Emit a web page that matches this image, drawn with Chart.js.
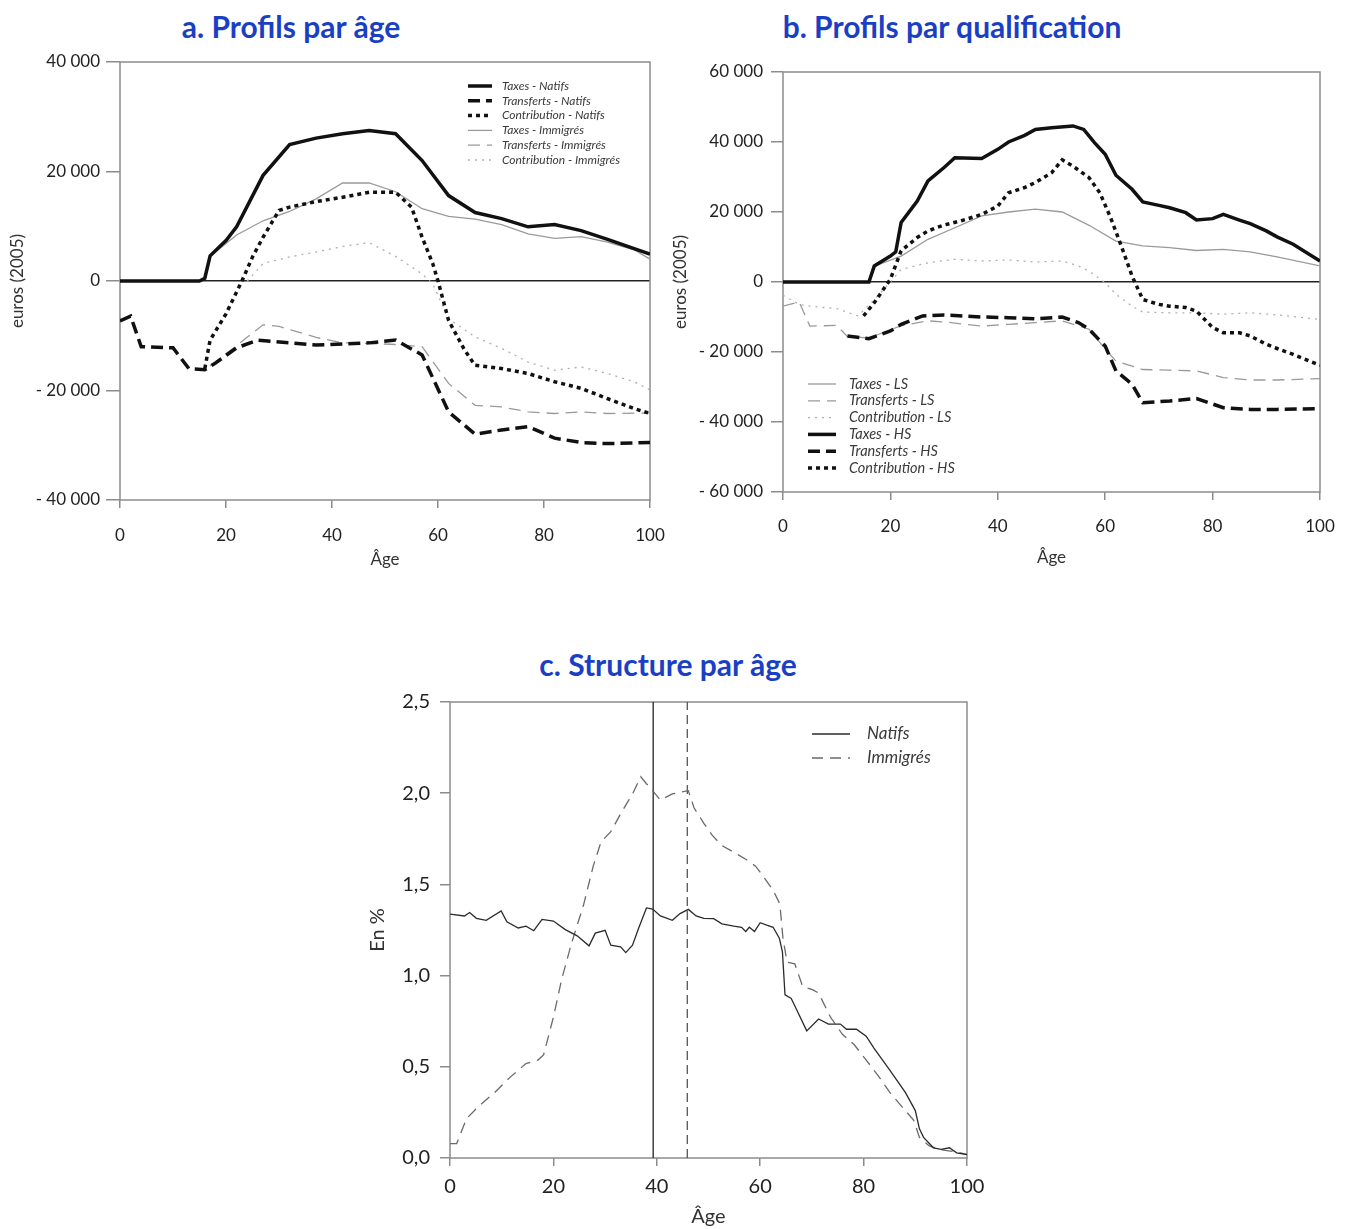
<!DOCTYPE html>
<html>
<head>
<meta charset="utf-8">
<script src="https://cdn.jsdelivr.net/npm/chart.js@4.4.1/dist/chart.umd.min.js"></script>
<style>
  body { margin: 0; width: 1345px; height: 1229px; background: #fff; position: relative; overflow: hidden; font-family: Lato, sans-serif; }
  .title { position: absolute; color: #1b3fc4; font-weight: bold; font-size: 30px; text-align: center; white-space: nowrap; line-height: 36px; }
  canvas { position: absolute; }
</style>
</head>
<body>
<div class="title" style="left:91px; top:8px; width:400px;">a. Profils par âge</div>
<div class="title" style="left:752px; top:8px; width:400px;">b. Profils par qualification</div>
<div class="title" style="left:468px; top:646px; width:400px;">c. Structure par âge</div>

<canvas id="chartA" width="670" height="520" style="left:0; top:50px;"></canvas>
<canvas id="chartB" width="675" height="520" style="left:670px; top:50px;"></canvas>
<canvas id="chartC" width="645" height="539" style="left:360px; top:690px;"></canvas>

<script>
// a. profils par age (euros 2005)
const agesTaxN = [0, 15, 16, 17, 20, 22, 27, 32, 37, 42, 47, 52, 57, 62, 67, 72, 77, 82, 87, 92, 97, 100];
const taxN = [0, 0, 500, 4600, 7400, 9900, 19300, 24900, 26100, 26900, 27500, 26900, 22000, 15600, 12500, 11400, 9900, 10300, 9200, 7600, 5900, 4900];
const agesTrN = [0, 2, 4, 10, 13, 16, 18, 22, 26, 32, 37, 42, 47, 52, 57, 62, 67, 72, 77, 82, 87, 92, 100];
const trN = [-7300, -6400, -12000, -12200, -16000, -16200, -15000, -12200, -10800, -11300, -11700, -11500, -11300, -10800, -13500, -23900, -28000, -27200, -26600, -28700, -29500, -29700, -29500];
const agesCoN = [16, 17, 20, 23, 25, 27, 30, 32, 37, 42, 47, 52, 55, 57, 59, 60, 62, 65, 67, 72, 77, 82, 87, 92, 97, 100];
const coN = [-16000, -10800, -6000, 0, 4400, 8000, 12900, 13500, 14500, 15300, 16200, 16200, 13500, 8000, 3200, 0, -7200, -12600, -15400, -16000, -16900, -18400, -19600, -21500, -23300, -24200];
const agesTaxI = [17, 22, 27, 32, 37, 42, 47, 52, 57, 62, 67, 72, 77, 82, 87, 92, 97, 100];
const taxI = [4500, 8400, 11000, 12700, 15000, 17900, 17900, 16300, 13200, 11800, 11300, 10300, 8600, 7800, 8100, 7100, 5700, 4000];
const agesTrI = [17, 22, 27, 30, 37, 42, 47, 52, 57, 62, 67, 72, 77, 82, 87, 92, 100];
const trI = [-15500, -11800, -8000, -8300, -10300, -11300, -11400, -11600, -12000, -18700, -22700, -23000, -23900, -24200, -23900, -24200, -24100];
const agesCoI = [24, 27, 32, 37, 42, 47, 52, 57, 59, 62, 67, 72, 77, 82, 87, 92, 97, 100];
const coI = [0, 3200, 4400, 5300, 6300, 7000, 4500, 1300, -500, -6900, -10200, -12300, -14800, -16300, -15700, -16900, -18400, -19900];

// b. profils par qualification
const agesTaxLS = [17, 22, 27, 32, 37, 42, 47, 52, 57, 62, 67, 72, 77, 82, 87, 92, 100];
const taxLS = [4500, 7400, 12200, 15500, 18900, 20000, 20800, 20000, 16200, 11700, 10300, 9800, 9000, 9300, 8600, 7200, 4600];
const agesTrLS = [0, 3, 5, 10, 12, 16, 22, 27, 30, 37, 42, 47, 52, 57, 60, 62, 67, 72, 77, 82, 87, 92, 100];
const trLS = [-6900, -5700, -12600, -12400, -15600, -16000, -12500, -11100, -11400, -12600, -12100, -11600, -11100, -13500, -19200, -22600, -25000, -25200, -25400, -27300, -28000, -28000, -27600];
const agesCoLS = [0, 3, 5, 10, 14, 17, 20, 22, 27, 32, 37, 42, 47, 52, 55, 57, 60, 62, 65, 67, 72, 77, 82, 87, 92, 100];
const coLS = [-3800, -6400, -6900, -7600, -9700, -5000, 0, 3600, 5500, 6500, 6000, 6300, 5700, 6000, 4600, 3100, -200, -3500, -6900, -8600, -8800, -8800, -9200, -8800, -9400, -10700];
const agesTaxHS = [0, 16, 17, 20, 21, 22, 25, 27, 30, 32, 37, 40, 42, 45, 47, 50, 54, 56, 58, 60, 62, 65, 67, 70, 72, 75, 77, 80, 82, 85, 87, 90, 92, 95, 100];
const taxHS = [0, 0, 4600, 7400, 8600, 17000, 23100, 28900, 32700, 35500, 35300, 37900, 40000, 41900, 43600, 44100, 44600, 43600, 39800, 36500, 30500, 26500, 22900, 21900, 21200, 19800, 17700, 18100, 19300, 17700, 16700, 14600, 12900, 10800, 6000];
const agesTrHS = [12, 16, 20, 22, 26, 30, 37, 42, 47, 52, 55, 57, 60, 62, 65, 67, 72, 77, 82, 87, 92, 100];
const trHS = [-15400, -16200, -14000, -12100, -9700, -9400, -10000, -10200, -10500, -10000, -11600, -13500, -18300, -25400, -29200, -34500, -34000, -33300, -35900, -36400, -36400, -36200];
const agesCoHS = [15, 17, 20, 22, 25, 27, 30, 33, 37, 40, 42, 45, 47, 50, 52, 54, 57, 59, 61, 63, 65, 67, 70, 72, 75, 77, 80, 82, 85, 87, 90, 92, 95, 100];
const coHS = [-9700, -5900, 800, 8900, 12700, 14600, 16300, 17400, 19300, 21700, 25500, 27000, 28400, 31200, 34900, 33100, 29800, 25500, 18400, 10300, 1700, -5000, -6400, -6900, -7300, -8300, -13000, -14500, -14500, -15400, -17800, -19000, -20700, -23800];

// c. structure par age (en %)
const agesNat = [0, 2.8, 3.8, 5.1, 7, 9.9, 11, 13.2, 14.7, 16.2, 17.8, 20, 22.3, 24.6, 26.9, 28.1, 30, 31.1, 33, 34, 35.3, 36.5, 38, 39.2, 40.7, 43, 44.5, 46.1, 47.6, 49.1, 51, 52.6, 54.9, 56.4, 57.2, 57.9, 58.9, 60, 61.4, 62.5, 63.7, 64.3, 64.8, 66, 67.1, 69, 71.3, 73.2, 75.5, 76.7, 78.6, 80.5, 82, 85.1, 88.1, 90, 90.8, 91.6, 93.5, 95, 96.6, 98, 100];
const pctNat = [1.337, 1.327, 1.346, 1.314, 1.303, 1.355, 1.295, 1.261, 1.271, 1.246, 1.308, 1.299, 1.252, 1.218, 1.163, 1.233, 1.248, 1.167, 1.158, 1.126, 1.167, 1.261, 1.371, 1.365, 1.327, 1.303, 1.340, 1.363, 1.327, 1.314, 1.312, 1.284, 1.271, 1.265, 1.242, 1.265, 1.242, 1.290, 1.275, 1.265, 1.205, 1.130, 0.894, 0.875, 0.81, 0.697, 0.762, 0.734, 0.734, 0.706, 0.706, 0.668, 0.602, 0.48, 0.358, 0.26, 0.16, 0.113, 0.056, 0.047, 0.056, 0.028, 0.019];
const agesImm = [0, 1.3, 3.2, 5.5, 8.6, 11.6, 14.7, 17, 18.1, 20, 21.6, 23.5, 25.8, 27.7, 29.2, 31.1, 33.1, 35.3, 36.9, 38, 39.2, 40.7, 43, 46.1, 47.2, 49.1, 50.7, 52.6, 54.9, 57.2, 59.1, 60.6, 62.5, 63.8, 64.4, 65.2, 66.7, 68.2, 70.2, 71.3, 73.6, 75.9, 78.2, 80.5, 82.8, 85.1, 87.4, 89.7, 90.8, 92.7, 95, 97.5, 100];
const pctImm = [0.079, 0.079, 0.216, 0.282, 0.358, 0.442, 0.518, 0.537, 0.565, 0.772, 0.979, 1.177, 1.384, 1.600, 1.732, 1.789, 1.892, 1.996, 2.090, 2.052, 2.014, 1.962, 1.996, 2.014, 1.920, 1.835, 1.770, 1.713, 1.676, 1.638, 1.600, 1.544, 1.468, 1.393, 1.205, 1.073, 1.064, 0.941, 0.922, 0.904, 0.772, 0.678, 0.621, 0.537, 0.452, 0.358, 0.282, 0.207, 0.113, 0.066, 0.045, 0.035, 0.02];
const meanAges = [39.3, 45.9]; // natifs, immigres

const pts = (xs, ys) => xs.map((x, i) => ({ x, y: ys[i] }));
const euros = v => {
    const s = String(Math.abs(v)).replace(/\B(?=(\d{3})+(?!\d))/g, ' ');
    return v < 0 ? '- ' + s : s;
};

const BLACK = '#111';
const GREY = '#9a9a9a';
const thick = (label, data, dash) => ({ label, data, borderColor: BLACK, borderWidth: 3.5, borderDash: dash, order: 1 });
const thin = (label, data, dash, color) => ({ label, data, borderColor: color || GREY, borderWidth: 1.3, borderDash: dash, order: 2 });

const framePlugin = {
    id: 'frame',
    beforeDatasetsDraw(chart) {
        const { ctx, chartArea: a } = chart;
        ctx.save();
        ctx.strokeStyle = '#8c8c8c';
        ctx.lineWidth = 1.5;
        ctx.strokeRect(a.left, a.top, a.right - a.left, a.bottom - a.top);
        ctx.restore();
    }
};

const lineLegend = {
    id: 'lineLegend',
    afterDraw(chart, args, o) {
        const ctx = chart.ctx;
        ctx.save();
        ctx.font = o.font;
        ctx.fillStyle = '#3a3a3a';
        ctx.textBaseline = 'middle';
        chart.data.datasets.filter(d => d.label).forEach((d, i) => {
            const y = o.y + i * o.step;
            ctx.strokeStyle = d.borderColor;
            ctx.lineWidth = d.borderWidth;
            ctx.setLineDash(d.borderDash || []);
            ctx.beginPath();
            ctx.moveTo(o.x, y);
            ctx.lineTo(o.x + o.len, y);
            ctx.stroke();
            ctx.fillText(d.label, o.textX, y);
        });
        ctx.restore();
    }
};

function makeChart(id, datasets, s) {
    new Chart(document.getElementById(id), {
        type: 'scatter',
        data: { datasets: datasets.map(d => Object.assign({ showLine: true, pointRadius: 0, tension: 0, fill: false }, d)) },
        options: {
            responsive: false,
            animation: false,
            layout: { padding: s.pad },
            scales: {
                x: {
                    type: 'linear', min: 0, max: 100,
                    border: { display: false },
                    grid: { drawOnChartArea: false, tickLength: 8, tickColor: '#8c8c8c', lineWidth: 1.5 },
                    ticks: { stepSize: 20, color: '#222', padding: s.xpad, maxRotation: 0, font: { family: 'Lato', size: s.fs } },
                    title: { display: true, text: 'Âge', color: '#333', padding: { top: 0, bottom: s.xtp }, font: { family: 'Lato', size: s.fs } },
                    afterFit: sc => { sc.height = s.xh; sc.paddingLeft = 0; sc.paddingRight = 0; }
                },
                y: {
                    min: s.ymin, max: s.ymax,
                    border: { display: false },
                    grid: {
                        drawOnChartArea: true, tickLength: s.ytl, tickColor: '#8c8c8c', lineWidth: 1.5,
                        color: c => (s.zero && c.tick && c.tick.value === 0) ? '#222' : 'rgba(0,0,0,0)'
                    },
                    ticks: { stepSize: s.ystep, color: '#222', padding: s.ypad, font: { family: 'Lato', size: s.fs }, callback: s.fmt },
                    title: { display: true, text: s.ytitle, color: '#333', padding: { top: s.ytp, bottom: 0 }, font: { family: 'Lato', size: s.fs } },
                    afterFit: sc => { sc.width = s.yw; sc.paddingTop = 0; sc.paddingBottom = 0; }
                }
            },
            plugins: {
                legend: { display: false },
                tooltip: { enabled: false },
                lineLegend: s.legend
            }
        },
        plugins: [framePlugin, lineLegend]
    });
}

makeChart('chartA', [
    thick('Taxes - Natifs', pts(agesTaxN, taxN), []),
    thick('Transferts - Natifs', pts(agesTrN, trN), [12, 6]),
    thick('Contribution - Natifs', pts(agesCoN, coN), [4, 4]),
    thin('Taxes - Immigrés', pts(agesTaxI, taxI), []),
    thin('Transferts - Immigrés', pts(agesTrI, trI), [12, 7]),
    thin('Contribution - Immigrés', pts(agesCoI, coI), [2, 5], '#b0b0b0')
], {
    pad: { top: 12, right: 20, left: 0, bottom: 0 },
    ymin: -40000, ymax: 40000, ystep: 20000, fmt: euros, zero: true,
    fs: 17, xpad: 17, xtp: 0, xh: 70, yw: 120, ytl: 14, ypad: 6, ytp: 7,
    ytitle: 'euros (2005)',
    legend: { x: 468, len: 24, textX: 502, y: 36, step: 14.8, font: 'italic 12px Lato' }
});

makeChart('chartB', [
    thin('Taxes - LS', pts(agesTaxLS, taxLS), []),
    thin('Transferts - LS', pts(agesTrLS, trLS), [12, 7]),
    thin('Contribution - LS', pts(agesCoLS, coLS), [2, 5], '#b0b0b0'),
    thick('Taxes - HS', pts(agesTaxHS, taxHS), []),
    thick('Transferts - HS', pts(agesTrHS, trHS), [12, 6]),
    thick('Contribution - HS', pts(agesCoHS, coHS), [4, 4])
], {
    pad: { top: 22, right: 25, left: 0, bottom: 0 },
    ymin: -60000, ymax: 60000, ystep: 20000, fmt: euros, zero: true,
    fs: 17, xpad: 16, xtp: 2, xh: 78, yw: 113, ytl: 12, ypad: 8, ytp: 0,
    ytitle: 'euros (2005)',
    legend: { x: 138, len: 28, textX: 179, y: 334, step: 16.8, font: 'italic 14.5px Lato' }
});

makeChart('chartC', [
    thin('Natifs', pts(agesNat, pctNat), [], '#2b2b2b'),
    thin('Immigrés', pts(agesImm, pctImm), [11, 7], '#6a6a6a'),
    thin('', pts([meanAges[0], meanAges[0]], [0, 2.5]), [], '#222'),
    thin('', pts([meanAges[1], meanAges[1]], [0, 2.5]), [9, 5], '#555')
], {
    pad: { top: 12, right: 38, left: 0, bottom: 0 },
    ymin: 0, ymax: 2.5, ystep: 0.5, fmt: v => v.toFixed(1).replace('.', ','), zero: false,
    fs: 20, xpad: 9, xtp: 0, xh: 71, yw: 90, ytl: 10, ypad: 10, ytp: 6,
    ytitle: 'En %',
    legend: { x: 452, len: 38, textX: 507, y: 44, step: 24, font: 'italic 17px Lato' }
});
</script>
</body>
</html>
